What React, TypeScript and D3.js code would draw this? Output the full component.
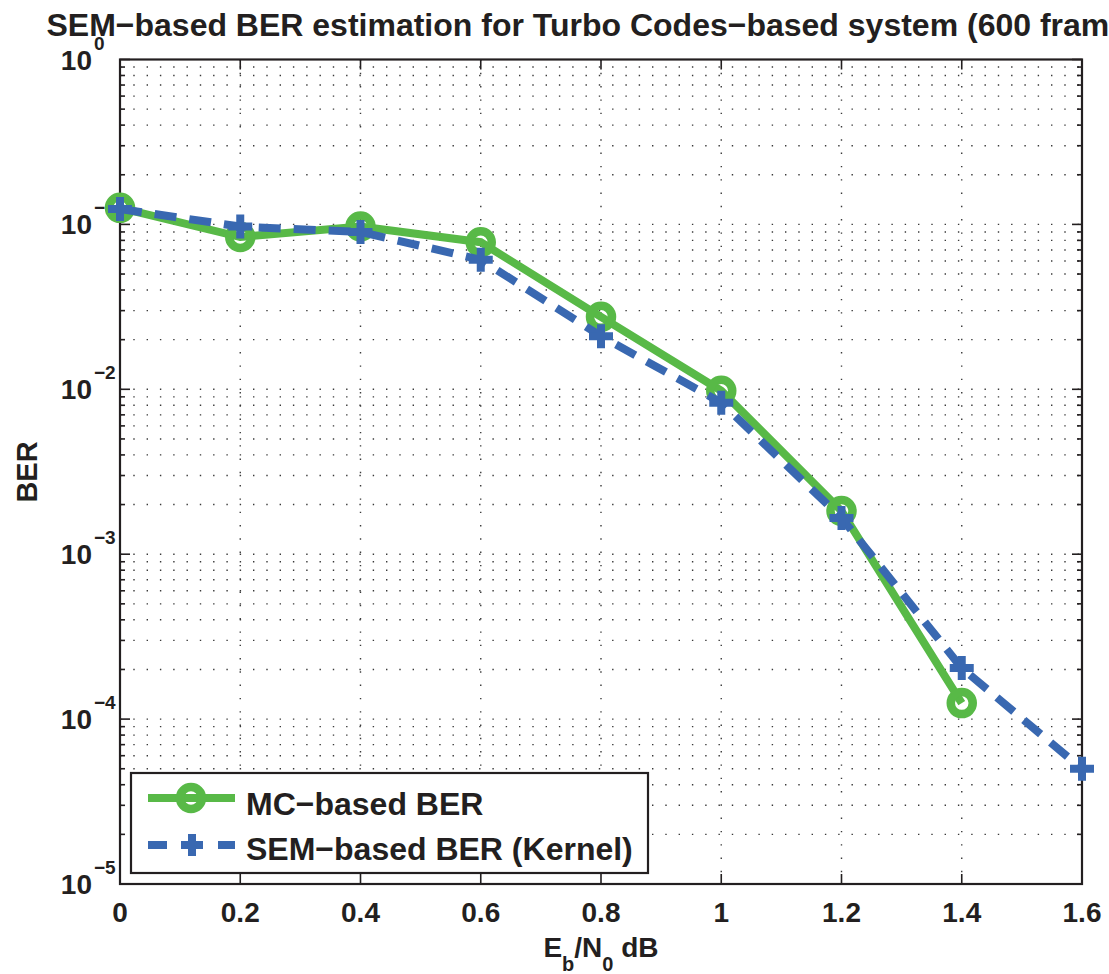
import React from "react";
import * as d3 from "d3";

// Eb/N0 (dB) values on the x axis
const ebn0 = [0, 0.2, 0.4, 0.6, 0.8, 1.0, 1.2, 1.4, 1.6];
// Monte Carlo BER (no point at 1.6)
const mcBer = [0.126, 0.0838, 0.097, 0.078, 0.0275, 0.0098, 0.00183, 0.000125];
// SEM kernel estimate
const semBer = [0.124, 0.097, 0.09, 0.061, 0.021, 0.0083, 0.00166, 0.000204, 0.00005];

const xTicks = [0, 0.2, 0.4, 0.6, 0.8, 1, 1.2, 1.4, 1.6];
const xTickLabels = ["0", "0.2", "0.4", "0.6", "0.8", "1", "1.2", "1.4", "1.6"];
const yExponents = [0, -1, -2, -3, -4, -5];

const W = 1109;
const H = 974;
const FONT = "'Liberation Sans', Arial, Helvetica, sans-serif";
const INK = "#231f20";
const GREEN = "#58b947";
const BLUE = "#3968b1";

const App: React.FC = () => {
    const margin = { left: 120, right: 1082, top: 59.5, bottom: 884 };
    const x = d3.scaleLinear().domain([0, 1.6]).range([margin.left, margin.right]);
    const y = d3.scaleLog().domain([1e-5, 1]).range([margin.bottom, margin.top]);

    // minor log ticks (2..9 of every decade)
    const minor: number[] = [];
    for (let e = -5; e < 0; e++) {
        for (let k = 2; k <= 9; k++) minor.push(k * Math.pow(10, e));
    }
    const allY = [...minor, ...yExponents.map((e) => Math.pow(10, e))];

    const mcPts: [number, number][] = mcBer.map((v, i) => [x(ebn0[i]), y(v)]);
    const semPts: [number, number][] = semBer.map((v, i) => [x(ebn0[i]), y(v)]);
    const line = d3.line();

    const plus = (cx: number, cy: number, s: number) =>
        `M${cx - s},${cy}H${cx + s}M${cx},${cy - s}V${cy + s}`;

    const minus = "\u2212";
    const cxMid = (margin.left + margin.right) / 2;

    return (
        <svg width={W} height={H} style={{ position: "absolute", left: 0, top: 0, background: "#fff" }}
             fontFamily={FONT} fontWeight="bold" fill={INK}>
            <rect x={0} y={0} width={W} height={H} fill="#fff" />

            {/* grid */}
            <g stroke="#3a3a3a" strokeWidth={1.4} strokeDasharray="1.4,11.9" fill="none">
                {allY.filter((v) => v < 1 && v > 1e-5).map((v, i) => (
                    <line key={"gy" + i} x1={margin.left} x2={margin.right} y1={y(v)} y2={y(v)} />
                ))}
                {xTicks.slice(1, -1).map((t) => (
                    <line key={"gx" + t} x1={x(t)} x2={x(t)} y1={margin.top} y2={margin.bottom} />
                ))}
            </g>

            {/* ticks */}
            <g stroke={INK} strokeWidth={1.6}>
                {allY.map((v, i) => {
                    const major = Math.abs(Math.log10(v) - Math.round(Math.log10(v))) < 1e-9;
                    const len = major ? 10 : 5;
                    return (
                        <g key={"ty" + i}>
                            <line x1={margin.left} x2={margin.left + len} y1={y(v)} y2={y(v)} />
                            <line x1={margin.right} x2={margin.right - len} y1={y(v)} y2={y(v)} />
                        </g>
                    );
                })}
                {xTicks.map((t) => (
                    <g key={"tx" + t}>
                        <line x1={x(t)} x2={x(t)} y1={margin.bottom} y2={margin.bottom - 10} />
                        <line x1={x(t)} x2={x(t)} y1={margin.top} y2={margin.top + 10} />
                    </g>
                ))}
            </g>

            {/* axes box */}
            <rect x={margin.left} y={margin.top} width={margin.right - margin.left}
                  height={margin.bottom - margin.top} fill="none" stroke={INK} strokeWidth={2.2} />

            {/* y tick labels */}
            {yExponents.map((e) => (
                <g key={"yl" + e}>
                    <text x={92} y={y(Math.pow(10, e)) + 10} fontSize={28} textAnchor="end">10</text>
                    <text x={94} y={y(Math.pow(10, e)) - 10} fontSize={19}>
                        {e === 0 ? "0" : minus + String(-e)}
                    </text>
                </g>
            ))}

            {/* x tick labels */}
            {xTicks.map((t, i) => (
                <text key={"xl" + t} x={x(t)} y={922} fontSize={28} textAnchor="middle">{xTickLabels[i]}</text>
            ))}

            {/* axis labels */}
            <text x={cxMid} y={957} fontSize={28} textAnchor="middle">
                E<tspan fontSize={20} dy={14}>b</tspan>
                <tspan dy={-14}>/N</tspan>
                <tspan fontSize={20} dy={14}>0</tspan>
                <tspan dy={-14}> dB</tspan>
            </text>
            <text transform={`translate(37,472) rotate(-90)`} fontSize={29} textAnchor="middle">BER</text>

            {/* title (runs past the right edge, as in the original) */}
            <text x={cxMid} y={36} fontSize={32} textAnchor="middle">
                {`SEM${minus}based BER estimation for Turbo Codes${minus}based system (600 frames)`}
            </text>

            {/* MC series */}
            <path d={line(mcPts) || ""} fill="none" stroke={GREEN} strokeWidth={8} strokeLinejoin="miter" />
            {mcPts.map((p, i) => (
                <circle key={"mc" + i} cx={p[0]} cy={p[1]} r={11} fill="none" stroke={GREEN} strokeWidth={8.5} />
            ))}

            {/* SEM series */}
            <path d={line(semPts) || ""} fill="none" stroke={BLUE} strokeWidth={8} strokeDasharray="22,13" />
            {semPts.map((p, i) => (
                <path key={"sem" + i} d={plus(p[0], p[1], 12)} stroke={BLUE} strokeWidth={8} fill="none" />
            ))}

            {/* legend */}
            <g>
                <rect x={131} y={773} width={517} height={100} fill="#fff" stroke={INK} strokeWidth={2.2} />
                <line x1={148} x2={235} y1={798} y2={798} stroke={GREEN} strokeWidth={8} />
                <circle cx={191} cy={798} r={11} fill="none" stroke={GREEN} strokeWidth={8.5} />
                <text x={246} y={815} fontSize={32}>{`MC${minus}based BER`}</text>
                <line x1={148} x2={235} y1={845} y2={845} stroke={BLUE} strokeWidth={8} strokeDasharray="19,51" />
                <path d={plus(192, 845, 11)} stroke={BLUE} strokeWidth={8} fill="none" />
                <text x={246} y={860} fontSize={32}>{`SEM${minus}based BER (Kernel)`}</text>
            </g>
        </svg>
    );
};

export default App;
